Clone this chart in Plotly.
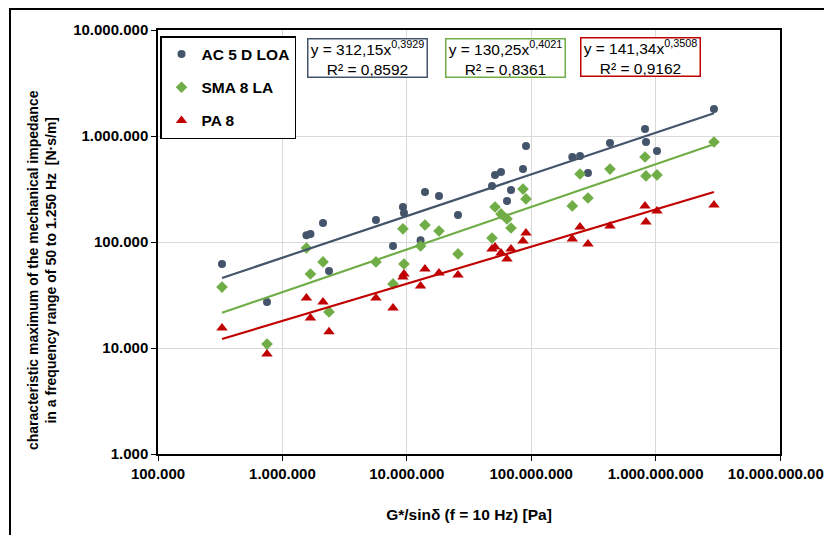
import numpy as np
import plotly.graph_objects as go

# ---------------- data ----------------
series_names = ["AC 5 D LOA", "SMA 8 LA", "PA 8"]

x_vals = [327000, 752000, 1560000, 1680000, 2120000, 2370000, 5650000, 7750000,
          9310000, 9490000, 12900000, 14000000, 18150000, 25800000, 48400000,
          51200000, 57200000, 63900000, 68800000, 85900000, 90800000, 214000000,
          247000000, 286000000, 430000000, 822000000, 837000000, 1026000000,
          2946000000]

ac_vals = [62000, 27200, 116000, 119000, 151000, 53200, 161000, 91700, 214000,
           188000, 104000, 296000, 272000, 180000, 337000, 429000, 457000,
           244000, 310000, 488000, 805000, 634000, 648000, 448000, 859000,
           1164000, 878000, 722000, 1798000]

sma_vals = [37600, 10900, 87800, 49900, 64800, 21900, 64800, 40200, 133000,
            62000, 91700, 144700, 127000, 77100, 109000, 214000, 184000,
            165000, 135600, 316000, 255000, 219000, 438000, 260000, 488000,
            634000, 420000, 429000, 878000]

pa_vals = [15450, 8780, 29600, 19200, 27200, 14200, 29600, 23800, 46800, 49900,
           38500, 55600, 51000, 48800, 85900, 89700, 78700, 69100, 85900,
           102000, 121600, 106700, 138600, 95700, 141500, 219000, 154500,
           196000, 223000]

# power-law trend coefficients (y = a * x^b) and R²
trend_a = [312.15, 130.25, 141.34]
trend_b = [0.3929, 0.4021, 0.3508]
trend_r2 = ["0,8592", "0,8361", "0,9162"]
trend_a_txt = ["312,15", "130,25", "141,34"]
trend_b_txt = ["0,3929", "0,4021", "0,3508"]

x_tickvals = [1e5, 1e6, 1e7, 1e8, 1e9, 1e10]
x_ticktext = ["100.000", "1.000.000", "10.000.000", "100.000.000",
              "1.000.000.000", "10.000.000.000"]
y_tickvals = [1e3, 1e4, 1e5, 1e6, 1e7]
y_ticktext = ["1.000", "10.000", "100.000", "1.000.000", "10.000.000"]

x_title = "G*/sinδ (f = 10 Hz) [Pa]"
y_title = ("characteristic maximum of the mechanical impedance<br>"
           "in a frequency range of 50 to 1.250 Hz  [N·s/m]")

# ---------------- style ----------------
colors = ["#44546A", "#70AD47", "#C00000"]
symbols = ["circle", "diamond", "triangle-up"]
msizes = [8, 9, 10]
FONT = "Liberation Sans, Arial, sans-serif"

OFF = 8                      # page body margin
W, H = 832 - 2 * OFF, 543 - 2 * OFF
L, T = 158 - OFF, 30 - OFF
R = (W + OFF) - 780
B = (H + OFF) - 454
PW, PH = W - L - R, H - T - B


def px_x(px):
    """page pixel -> paper fraction"""
    return (px - OFF - L) / PW


def px_y(py):
    return (H - B - (py - OFF)) / PH


fig = go.Figure()
all_y = [ac_vals, sma_vals, pa_vals]

for i, name in enumerate(series_names):
    fig.add_trace(go.Scatter(
        x=x_vals, y=all_y[i], mode="markers", name=name,
        legendgroup=name,
        marker=dict(symbol=symbols[i], size=msizes[i], color=colors[i],
                    line=dict(width=0)),
    ))

for i, name in enumerate(series_names):
    xt = np.geomspace(min(x_vals), max(x_vals), 20)
    yt = trend_a[i] * xt ** trend_b[i]
    fig.add_trace(go.Scatter(
        x=xt, y=yt, mode="lines", showlegend=False, legendgroup=name,
        line=dict(color=colors[i], width=2.2), hoverinfo="skip",
    ))

# equation boxes
box_centers = [(367, 58), (505, 57.5), (640, 56.5)]
for i in range(3):
    cx, cy = box_centers[i]
    fig.add_annotation(
        xref="paper", yref="paper", x=px_x(cx), y=px_y(cy),
        xanchor="center", yanchor="middle", showarrow=False,
        text=(f"y = {trend_a_txt[i]}x<sup>{trend_b_txt[i]}</sup><br>"
              f"R² = {trend_r2[i]}"),
        font=dict(family=FONT, size=15.5, color="black"),
        align="center", width=118, height=37, borderpad=0,
        bordercolor=colors[i], borderwidth=1.5, bgcolor="white",
    )

# y-axis title as annotation
fig.add_annotation(
    xref="paper", yref="paper", x=px_x(42), y=px_y(270),
    xanchor="center", yanchor="middle", showarrow=False, textangle=-90,
    text=y_title, align="center",
    font=dict(family=FONT, size=14, color="black", weight="bold"),
)

# outer frame (right and bottom edges fall outside the picture)
fig.add_shape(type="rect", xref="paper", yref="paper",
              x0=px_x(10), x1=px_x(860), y0=px_y(570), y1=px_y(9),
              line=dict(color="black", width=2), fillcolor="rgba(0,0,0,0)",
              layer="above")

axis_common = dict(
    type="log", showgrid=True, gridcolor="#D9D9D9", gridwidth=1,
    showline=True, linecolor="black", linewidth=1.5, mirror=True,
    ticks="outside", ticklen=5, tickcolor="black", tickwidth=1,
    tickfont=dict(family=FONT, size=15, color="black", weight="bold"),
    zeroline=False, ticklabeloverflow="allow",
)

fig.update_layout(
    width=W, height=H,
    margin=dict(l=L, r=R, t=T, b=B, autoexpand=False),
    paper_bgcolor="white", plot_bgcolor="white",
    font=dict(family=FONT, color="black"),
    xaxis=dict(axis_common, range=[5, 10], tickvals=x_tickvals,
               ticktext=x_ticktext,
               title=dict(text=x_title, standoff=28,
                          font=dict(family=FONT, size=15.5, color="black",
                                    weight="bold"))),
    yaxis=dict(axis_common, range=[3, 7], tickvals=y_tickvals,
               ticktext=y_ticktext),
    legend=dict(
        x=px_x(160), y=px_y(36), xanchor="left", yanchor="top",
        bgcolor="white", bordercolor="black", borderwidth=1.5,
        font=dict(family=FONT, size=15.5, color="black", weight="bold"),
        tracegroupgap=10, itemwidth=30,
    ),
    showlegend=True,
)

fig.write_html("out.html")
